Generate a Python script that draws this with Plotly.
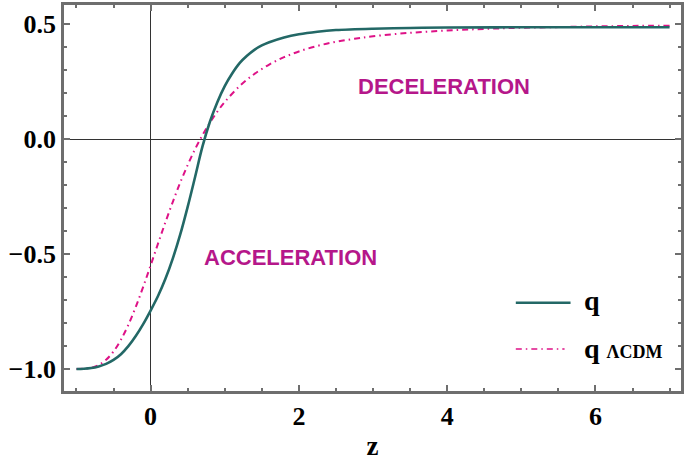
import plotly.graph_objects as go

# redshift grid and deceleration parameter values
z_q = [-1.0, -0.9, -0.8, -0.7, -0.6, -0.5, -0.4, -0.3, -0.2, -0.1, 0.0, 0.1, 0.2, 0.3,
       0.4, 0.5, 0.6, 0.7, 0.8, 0.9, 1.0, 1.1, 1.2, 1.3, 1.4, 1.5, 1.6, 1.8, 2.0, 2.25,
       2.5, 3.0, 3.5, 4.0, 5.0, 6.0, 7.0]
q_vals = [-1.0, -0.999, -0.996, -0.989, -0.978, -0.961, -0.936, -0.901, -0.857, -0.805,
          -0.746, -0.683, -0.608, -0.519, -0.415, -0.295, -0.165, -0.032, 0.075, 0.160,
          0.230, 0.285, 0.330, 0.362, 0.388, 0.407, 0.421, 0.442, 0.456, 0.467,
          0.474, 0.480, 0.483, 0.485, 0.486, 0.486, 0.486]

z_l = [-1.0, -0.9, -0.8, -0.7, -0.6, -0.5, -0.4, -0.3, -0.2, -0.1, 0.0, 0.1, 0.2, 0.3,
       0.4, 0.5, 0.6, 0.7, 0.8, 0.9, 1.0, 1.2, 1.4, 1.6, 1.8, 2.0, 2.25, 2.5, 2.75, 3.0,
       3.5, 4.0, 4.5, 5.0, 5.5, 6.0, 6.5, 7.0]
q_lcdm = [-1.0, -0.999, -0.995, -0.983, -0.960, -0.924, -0.873, -0.808, -0.730, -0.643,
          -0.550, -0.455, -0.362, -0.273, -0.189, -0.113, -0.044, 0.017, 0.071, 0.119,
          0.161, 0.230, 0.283, 0.324, 0.356, 0.381, 0.405, 0.423, 0.436, 0.447,
          0.462, 0.472, 0.479, 0.484, 0.487, 0.490, 0.492, 0.493]

x_ticks = [0, 2, 4, 6]
y_ticks = [-1.0, -0.5, 0.0, 0.5]
y_ticktext = ["\u22121.0", "\u22120.5", "0.0", "0.5"]

TEAL = "#236866"
MAGENTA = "#de1287"
TEXTMAG = "#b5178a"
FRAME = "#6e6e6e"
SERIF = "Liberation Serif"
DASH = "6px,4px,1.5px,4px"

fig = go.Figure()
fig.add_trace(go.Scatter(x=z_l, y=q_lcdm, mode="lines", line_shape="spline",
                         line=dict(color=MAGENTA, width=2, dash=DASH),
                         name="q \u039bCDM", showlegend=False))
fig.add_trace(go.Scatter(x=z_q, y=q_vals, mode="lines", line_shape="spline",
                         line=dict(color=TEAL, width=2.6), name="q", showlegend=False))

axis_common = dict(showgrid=False, showline=True, linecolor=FRAME, linewidth=2.8,
                   mirror="allticks", ticks="inside", tickcolor=FRAME, tickwidth=1.5,
                   ticklen=6,
                   tickfont=dict(family=SERIF, size=26, color="black", weight="bold"))

fig.update_xaxes(range=[-1.168, 7.154], tickvals=x_ticks, zeroline=True,
                 zerolinecolor="#333333", zerolinewidth=1,
                 minor=dict(dtick=0.5, tick0=0, ticks="inside", ticklen=3,
                            tickcolor=FRAME, tickwidth=1.5),
                 title=dict(text="z", standoff=11,
                            font=dict(family=SERIF, size=27, color="black", weight="bold")),
                 **axis_common)
fig.update_yaxes(range=[-1.096, 0.583], tickvals=y_ticks, ticktext=y_ticktext,
                 zeroline=True, zerolinecolor="#333333", zerolinewidth=1,
                 minor=dict(dtick=0.1, tick0=0, ticks="inside", ticklen=3,
                            tickcolor=FRAME, tickwidth=1.5),
                 **axis_common)

fig.add_annotation(x=3.96, y=0.227, text="DECELERATION", showarrow=False,
                   font=dict(family="Liberation Sans", size=22, color=TEXTMAG, weight="bold"))
fig.add_annotation(x=1.885, y=-0.517, text="ACCELERATION", showarrow=False,
                   font=dict(family="Liberation Sans", size=22, color=TEXTMAG, weight="bold"))

# custom legend
fig.add_shape(type="line", xref="paper", yref="paper",
              x0=(518 - 64) / 620, x1=(573 - 64) / 620,
              y0=(391 - 302.7) / 386, y1=(391 - 302.7) / 386,
              line=dict(color=TEAL, width=2.6))
fig.add_shape(type="line", xref="paper", yref="paper",
              x0=(518 - 64) / 620, x1=(567 - 64) / 620,
              y0=(391 - 349) / 386, y1=(391 - 349) / 386,
              line=dict(color=MAGENTA, width=1.6, dash=DASH))
fig.add_annotation(xref="paper", yref="paper", x=(585 - 64) / 620, y=(391 - 300) / 386,
                   xanchor="left", yanchor="middle", showarrow=False, text="q",
                   font=dict(family=SERIF, size=28, color="black", weight="bold"))
fig.add_annotation(xref="paper", yref="paper", x=(585 - 64) / 620, y=(391 - 348) / 386,
                   xanchor="left", yanchor="middle", showarrow=False,
                   text="q <span style='font-size:18px'>\u039bCDM</span>",
                   font=dict(family=SERIF, size=28, color="black", weight="bold"))

fig.update_layout(width=684, height=461, margin=dict(l=64, r=0, t=5, b=70),
                  plot_bgcolor="white", paper_bgcolor="white", showlegend=False)

fig.write_html("out.html")
